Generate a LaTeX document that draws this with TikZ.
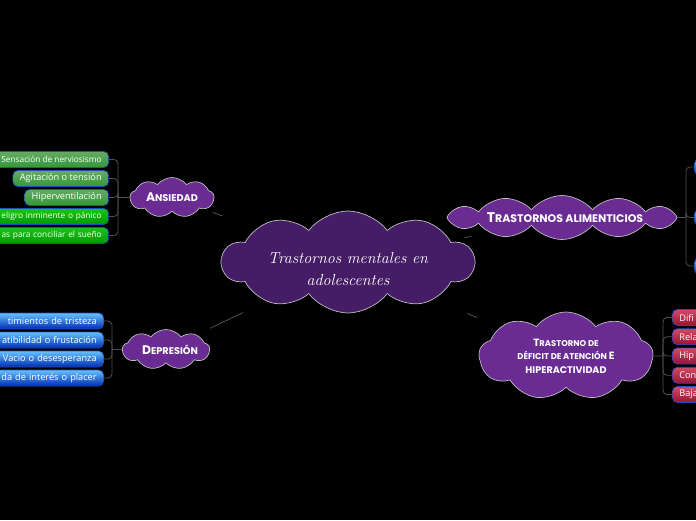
\documentclass[tikz,border=0pt]{standalone}
\usepackage{fontspec}
\usetikzlibrary{shapes.symbols}
\newfontfamily\leaffont{Open Sans}
\newfontfamily\titlefont{Poppins}
\def\bigsz{12.4}
\def\smallsz{9.75}
\newcommand\capbig[1]{{\fontsize{\bigsz}{11}\selectfont #1}}
\newcommand\capsmall[1]{{\fontsize{\smallsz}{11}\selectfont\MakeUppercase{#1}}}
\definecolor{mainpurple}{HTML}{451D66}
\definecolor{subpurple}{HTML}{6A2C92}
\definecolor{cloudedge}{HTML}{BDBDBD}
\definecolor{linkgray}{HTML}{505050}
\definecolor{leafedge}{HTML}{1D4FB8}
\definecolor{redge}{HTML}{2A48C0}
\definecolor{redtop}{HTML}{D24A68}
\definecolor{redbot}{HTML}{981430}
\pgfdeclarelayer{canvas}
\pgfdeclarelayer{links}
\pgfsetlayers{canvas,links,main}

\begin{document}
\begin{tikzpicture}[x=1pt, y=-1pt,
    cloudmain/.style={cloud, cloud puffs=10, cloud puff arc=105, cloud ignores aspect,
      inner sep=0pt, fill=mainpurple, draw=cloudedge, line width=0.7pt, text=white, align=center},
    cloudsub/.style={cloudmain, fill=subpurple, font=\titlefont\bfseries},
    leafbox/.style={rounded corners=5pt, draw=leafedge, line width=0.7pt, text=white,
      font=\leaffont\fontsize{9.2}{10}\selectfont, inner xsep=7pt, inner ysep=0pt, minimum height=16pt},
    leafsmall/.style={font=\leaffont\fontsize{8.3}{10}\selectfont},
    leafgreen/.style={leafbox, top color=green!45!black!60!white, bottom color=green!50!black!80},
    leaflime/.style={leafbox, top color=green!75!black!90, bottom color=green!60!black},
    leafblue/.style={leafbox, top color=blue!40!cyan!60!white, bottom color=blue!75!cyan!70!black},
    leafred/.style={leafbox, draw=redge, top color=redtop, bottom color=redbot},
    link/.style={draw=linkgray, line width=0.8pt},
    bracket/.style={draw=linkgray, line width=0.8pt, rounded corners=4pt}]

    % Background
    \begin{pgfonlayer}{canvas}
      \fill[black] (0,0) rectangle (696,520);
    \end{pgfonlayer}
    \useasboundingbox (0,0) rectangle (696,520);
    \clip (0,0) rectangle (696,520);

    % Central topic
    \node[cloudmain, minimum width=252pt, minimum height=102pt] (mentales) at (348,262) {};
    \node[text=white, align=center, font=\fontsize{16}{22}\selectfont\itshape] (mentalestext)
      at ([yshift=-7pt]mentales.center) {Trastornos mentales en\\adolescentes};

    % Ansiedad
    \node[cloudsub, cloud puffs=9, minimum width=84pt, minimum height=40pt] (ansiedad) at (172,197.5)
      {\capbig{A}\capsmall{nsiedad}};
    \node[leafgreen, leafsmall, anchor=east] (ans1) at (109,159.5) {Sensación de nerviosismo};
    \node[leafgreen, anchor=east] (ans2) at (109,178.5) {Agitación o tensión};
    \node[leafgreen, anchor=east] (ans3) at (109,197.5) {Hiperventilación};
    \node[leaflime, leafsmall, anchor=east, text width=110pt, align=right] (ans4) at (109,216.5) {eligro inminente o pánico};
    \node[leaflime, leafsmall, anchor=east, text width=110pt, align=right] (ans5) at (109,235.5) {as para conciliar el sueño};
    \coordinate (ansjoin) at (118,197.5);
    \draw[bracket] (ansiedad.west) -- (ansjoin);
    \foreach \n in {1,...,5}
      \draw[bracket] (ansjoin) |- (ans\n.east);

    % Depresion
    \node[cloudsub, cloud puffs=9, minimum width=86pt, minimum height=40pt] (depresion) at (166,349.5)
      {\hspace*{8pt}\capbig{D}\capsmall{epresión}};
    \node[leafblue, anchor=east, text width=110pt, align=right] (dep1) at (104,321) {timientos de tristeza};
    \node[leafblue, anchor=east, text width=110pt, align=right] (dep2) at (104,340) {atibilidad o frustación};
    \node[leafblue, anchor=east, text width=110pt, align=right] (dep3) at (104,359) {Vacio o desesperanza};
    \node[leafblue, anchor=east, text width=110pt, align=right] (dep4) at (104,378) {da de interés o placer};
    \coordinate (depjoin) at (112,349.5);
    \draw[bracket] (depresion.west) -- (depjoin);
    \foreach \n in {1,...,4}
      \draw[bracket] (depjoin) |- (dep\n.east);

    % Trastornos alimenticios
    \node[cloudsub, cloud puffs=12, cloud puff arc=100, minimum width=230pt, minimum height=44pt,
      font=\titlefont\bfseries\def\bigsz{14}\def\smallsz{11}] (alimentos) at (562,217.5)
      {\hspace*{6pt}\capbig{T}\capsmall{rastornos alimenticios}};
    \node[leafblue, anchor=west, minimum width=30pt] (ali1) at (694,167) {};
    \node[leafblue, anchor=west, minimum width=30pt] (ali2) at (694,217.5) {};
    \node[leafblue, anchor=west, minimum width=30pt] (ali3) at (694,266) {};
    \coordinate (alijoin) at (686,217.5);
    \draw[bracket] (alimentos.east) -- (alijoin);
    \foreach \n in {1,2,3}
      \draw[bracket] (alijoin) |- (ali\n.west);

    % TDAH
    \node[cloudsub, cloud puffs=9, minimum width=174pt, minimum height=88pt,
      font=\titlefont\bfseries\fontsize{9}{13.5}\selectfont\def\bigsz{10.5}\def\smallsz{8.4}] (tdah) at (566,356)
      {\capbig{T}\capsmall{rastorno de}\\
       \capsmall{déficit de atención} \capbig{E}\\
       {\fontsize{9.6}{11}\selectfont HIPERACTIVIDAD}};
    \node[leafred, anchor=west, text width=40pt, align=left] (tda1) at (672,317.5) {Difi};
    \node[leafred, anchor=west, text width=40pt, align=left] (tda2) at (672,336.75) {Rela};
    \node[leafred, anchor=west, text width=40pt, align=left] (tda3) at (672,356) {Hip};
    \node[leafred, anchor=west, text width=40pt, align=left] (tda4) at (672,375.25) {Con};
    \node[leafred, anchor=west, text width=40pt, align=left] (tda5) at (672,394.5) {Baja};
    \coordinate (tdajoin) at (663,356);
    \draw[bracket] (tdah.east) -- (tdajoin);
    \foreach \n in {1,...,5}
      \draw[bracket] (tdajoin) |- (tda\n.west);

    % Links from the centre
    \begin{pgfonlayer}{links}
      \draw[link, shorten <=134pt, shorten >=43.5pt] (mentales.center) -- (ansiedad.center);
      \draw[link, shorten <=116.7pt, shorten >=49pt] (mentales.center) -- (depresion.center);
      \draw[link, shorten <=119.4pt, shorten >=92.3pt] (mentales.center) -- (alimentos.center);
      \draw[link, shorten <=129.9pt, shorten >=96.8pt] (mentales.center) -- (tdah.center);
    \end{pgfonlayer}
\end{tikzpicture}
\end{document}
